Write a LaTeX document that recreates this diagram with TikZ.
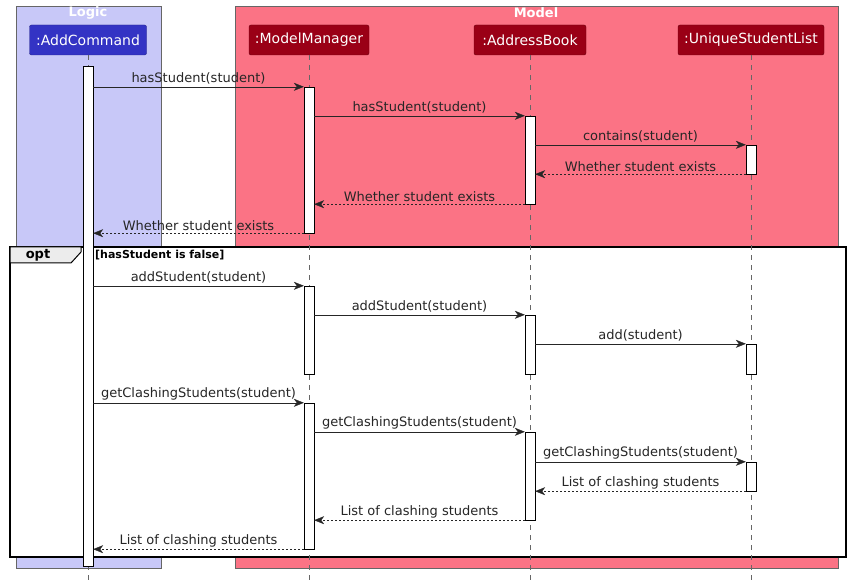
\documentclass[tikz,border=0pt]{standalone}
\usepackage{fontspec}
\setmainfont{DejaVu Sans}
\usetikzlibrary{arrows.meta}

\definecolor{logicbg}{RGB}{200,200,248}
\definecolor{modelbg}{RGB}{251,115,133}
\definecolor{logicpart}{RGB}{51,51,196}
\definecolor{modelpart}{RGB}{154,0,22}

\tikzset{
  group/.style={draw=gray!80!black, fill=#1},
  grouptitle/.style={text=white, font=\fontsize{13}{15}\selectfont\bfseries, inner sep=0pt},
  participant/.style={draw=#1!70!black, fill=#1, text=white, rounded corners=2pt,
    minimum height=30pt, inner sep=0pt, font=\fontsize{14}{16}\selectfont},
  lifeline/.style={gray!80!black, dash pattern=on 5pt off 5pt},
  act/.style={draw, fill=white, minimum width=10pt, inner sep=0pt},
  msg/.style={-{Stealth[length=10pt, width=8pt, inset=3pt]}, black!85},
  ret/.style={msg, dash pattern=on 2pt off 2pt},
  lbl/.style={font=\fontsize{13}{15}\selectfont, anchor=south, inner sep=2pt, text=black!85},
}

\begin{document}
\begin{tikzpicture}[x=1pt, y=-1pt]
    \useasboundingbox (0,0) rectangle (849,580);
    \coordinate (bottom) at (0,580);

    % groups
    \draw[group=logicbg] (16,6) rectangle (161,568);
    \draw[group=modelbg] (235,6) rectangle (838,568);
    \node[grouptitle] (logic) at (88,13) {Logic};
    \node[grouptitle] (model) at (536,13) {Model};

    % participants
    \node[participant=logicpart, minimum width=117pt] (ac) at (88,40) {:AddCommand};
    \node[participant=modelpart, minimum width=120pt] (mm) at (309,40) {:ModelManager};
    \node[participant=modelpart, minimum width=112pt] (ab) at (530,40) {:AddressBook};
    \node[participant=modelpart, minimum width=146pt] (us) at (751,40) {:UniqueStudentList};

    % opt frame
    \draw[line width=1.5pt, fill=white] (10,247) rectangle (846,557);
    \draw[line width=1pt, fill=gray!15] (10,247) -- (81,247) -- (81,252) -- (71,263) -- (10,263) -- cycle;
    \node[font=\fontsize{13}{15}\selectfont\bfseries, inner sep=0pt] (opt) at (38,255) {opt};
    \node[font=\fontsize{11}{13}\selectfont\bfseries, anchor=west, inner sep=0pt] (guard) at (95,255) {[hasStudent is false]};

    % lifelines
    \draw[lifeline] (ac.south) -- (ac.south |- bottom);
    \draw[lifeline] (mm.south) -- (mm.south |- bottom);
    \draw[lifeline] (ab.south) -- (ab.south |- bottom);
    \draw[lifeline] (us.south) -- (us.south |- bottom);

    % activations
    \node[act, minimum height=500pt] (ac0) at (88,316) {};
    \node[act, minimum height=146pt] (mm1) at (309,160) {};
    \node[act, minimum height=88pt] (mm2) at (309,330) {};
    \node[act, minimum height=146pt] (mm3) at (309,476) {};
    \node[act, minimum height=88pt] (ab1) at (530,160) {};
    \node[act, minimum height=59pt] (ab2) at (530,344.5) {};
    \node[act, minimum height=88pt] (ab3) at (530,476) {};
    \node[act, minimum height=29pt] (us1) at (751,159.5) {};
    \node[act, minimum height=30pt] (us2) at (751,359) {};
    \node[act, minimum height=29pt] (us3) at (751,476.5) {};

    % hasStudent
    \draw[msg] (ac0.east |- mm1.north) -- node[lbl] {hasStudent(student)} (mm1.north west);
    \draw[msg] (mm1.east |- ab1.north) -- node[lbl] {hasStudent(student)} (ab1.north west);
    \draw[msg] (ab1.east |- us1.north) -- node[lbl] {contains(student)} (us1.north west);
    \draw[ret] (us1.south west) -- node[lbl] {Whether student exists} (ab1.east |- us1.south);
    \draw[ret] (ab1.south west) -- node[lbl] {Whether student exists} (mm1.east |- ab1.south);
    \draw[ret] (mm1.south west) -- node[lbl] {Whether student exists} (ac0.east |- mm1.south);

    % addStudent
    \draw[msg] (ac0.east |- mm2.north) -- node[lbl] {addStudent(student)} (mm2.north west);
    \draw[msg] (mm2.east |- ab2.north) -- node[lbl] {addStudent(student)} (ab2.north west);
    \draw[msg] (ab2.east |- us2.north) -- node[lbl] {add(student)} (us2.north west);

    % getClashingStudents
    \draw[msg] (ac0.east |- mm3.north) -- node[lbl] {getClashingStudents(student)} (mm3.north west);
    \draw[msg] (mm3.east |- ab3.north) -- node[lbl] {getClashingStudents(student)} (ab3.north west);
    \draw[msg] (ab3.east |- us3.north) -- node[lbl] {getClashingStudents(student)} (us3.north west);
    \draw[ret] (us3.south west) -- node[lbl] {List of clashing students} (ab3.east |- us3.south);
    \draw[ret] (ab3.south west) -- node[lbl] {List of clashing students} (mm3.east |- ab3.south);
    \draw[ret] (mm3.south west) -- node[lbl] {List of clashing students} (ac0.east |- mm3.south);
\end{tikzpicture}
\end{document}
